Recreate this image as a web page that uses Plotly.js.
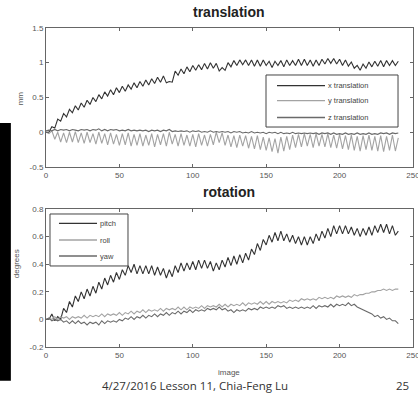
<!DOCTYPE html>
<html><head><meta charset="utf-8">
<script src="https://cdn.plot.ly/plotly-3.0.1.min.js"></script>
<style>html,body{margin:0;padding:0;background:#fff;}#chart{width:418px;height:393px;}</style>
</head><body><div id="chart"></div>
<script>
// image index: 0..240, step 2
const xTranslation = [0.00,0.00,0.08,0.06,0.19,0.16,0.27,0.22,0.33,0.28,0.38,0.32,0.42,0.36,0.46,0.40,0.50,0.44,0.54,0.48,0.58,0.52,0.61,0.54,0.64,0.57,0.66,0.59,0.68,0.62,0.71,0.64,0.73,0.66,0.75,0.68,0.77,0.70,0.79,0.72,0.81,0.71,0.73,0.72,0.88,0.82,0.91,0.84,0.94,0.87,0.96,0.89,0.97,0.90,0.99,0.91,1.00,0.92,0.99,0.88,0.93,0.89,1.00,0.94,1.03,0.96,1.04,0.97,1.04,0.96,1.04,0.95,1.04,0.95,1.04,0.96,1.02,0.93,1.02,0.96,1.03,0.94,1.04,0.96,1.03,0.96,1.05,0.96,1.05,0.96,1.04,0.95,1.04,0.96,1.05,0.98,1.06,0.99,1.06,0.98,1.05,0.96,1.04,0.95,1.01,0.92,0.96,0.89,0.98,0.92,1.01,0.94,1.02,0.95,1.03,0.94,1.03,0.96,1.03,0.96,1.02];
const yTranslation = [0.00,-0.02,0.02,-0.10,0.00,-0.14,-0.01,-0.15,0.00,-0.14,0.01,-0.15,-0.01,-0.16,0.00,-0.15,-0.02,-0.17,0.00,-0.16,-0.02,-0.18,-0.01,-0.17,-0.03,-0.19,-0.02,-0.18,-0.01,-0.20,-0.03,-0.19,-0.02,-0.20,-0.04,-0.19,-0.02,-0.21,-0.03,-0.18,-0.02,-0.20,0.00,-0.17,-0.03,-0.20,-0.02,-0.19,-0.04,-0.20,-0.03,-0.21,-0.02,-0.19,-0.04,-0.20,-0.03,-0.18,0.00,-0.15,-0.01,-0.19,-0.04,-0.21,-0.05,-0.22,-0.04,-0.20,-0.05,-0.23,-0.06,-0.24,-0.05,-0.25,-0.07,-0.26,-0.08,-0.28,-0.09,-0.30,-0.07,-0.27,-0.06,-0.25,-0.04,-0.22,-0.03,-0.21,-0.02,-0.20,-0.03,-0.22,-0.02,-0.20,-0.03,-0.21,-0.02,-0.22,-0.04,-0.23,-0.03,-0.24,-0.05,-0.25,-0.04,-0.26,-0.06,-0.27,-0.05,-0.25,-0.04,-0.26,-0.06,-0.27,-0.05,-0.28,-0.06,-0.26,-0.04,-0.27,-0.08];
const zTranslation = [0.02,0.03,0.02,0.04,0.02,0.04,0.03,0.04,0.02,0.04,0.03,0.02,0.04,0.03,0.04,0.02,0.04,0.03,0.05,0.02,0.04,0.02,0.04,0.03,0.04,0.02,0.03,0.02,0.04,0.02,0.03,0.02,0.03,0.02,0.03,0.01,0.03,0.02,0.03,0.01,0.03,0.02,0.04,0.01,0.02,0.01,0.02,0.01,0.02,0.00,0.02,0.01,0.02,0.00,0.01,0.00,0.02,0.00,0.01,0.00,0.01,0.00,0.01,-0.01,0.01,0.00,0.01,-0.01,0.00,-0.01,0.01,-0.01,0.00,-0.01,0.00,-0.02,0.00,-0.01,0.00,-0.02,0.00,-0.02,-0.01,-0.02,0.00,-0.02,-0.01,-0.02,-0.01,-0.02,-0.01,-0.02,-0.01,-0.03,-0.01,-0.02,-0.01,-0.03,-0.01,-0.03,-0.02,-0.03,-0.01,-0.03,-0.02,-0.03,-0.01,-0.03,-0.02,-0.03,-0.01,-0.03,-0.02,-0.03,-0.01,-0.02,-0.01,-0.03,-0.01,-0.02,-0.01];
const pitch = [0.00,0.00,0.04,-0.01,0.02,0.00,0.08,0.05,0.13,0.09,0.17,0.13,0.20,0.15,0.22,0.17,0.24,0.19,0.27,0.22,0.30,0.25,0.32,0.27,0.34,0.29,0.36,0.32,0.39,0.34,0.40,0.33,0.39,0.33,0.39,0.33,0.39,0.32,0.38,0.32,0.37,0.30,0.36,0.31,0.39,0.34,0.41,0.35,0.41,0.36,0.42,0.36,0.43,0.37,0.43,0.37,0.42,0.35,0.41,0.36,0.43,0.38,0.45,0.39,0.46,0.40,0.47,0.41,0.48,0.43,0.51,0.47,0.55,0.50,0.58,0.54,0.61,0.56,0.63,0.57,0.64,0.57,0.62,0.56,0.61,0.55,0.60,0.54,0.60,0.54,0.60,0.55,0.62,0.57,0.64,0.59,0.66,0.60,0.68,0.62,0.68,0.62,0.68,0.62,0.67,0.61,0.66,0.60,0.66,0.61,0.67,0.61,0.68,0.63,0.69,0.63,0.69,0.62,0.68,0.61,0.64];
const roll = [0.00,0.01,0.00,0.02,0.00,0.02,0.01,0.02,0.00,0.02,0.01,0.02,0.01,0.03,0.01,0.03,0.02,0.03,0.02,0.04,0.02,0.04,0.03,0.04,0.03,0.05,0.03,0.05,0.04,0.06,0.04,0.06,0.05,0.07,0.05,0.07,0.06,0.07,0.06,0.08,0.06,0.08,0.07,0.08,0.07,0.09,0.07,0.09,0.07,0.09,0.08,0.09,0.08,0.10,0.08,0.10,0.09,0.10,0.09,0.11,0.09,0.11,0.09,0.11,0.10,0.11,0.10,0.12,0.10,0.12,0.11,0.12,0.11,0.13,0.11,0.13,0.11,0.13,0.12,0.13,0.12,0.13,0.12,0.14,0.13,0.14,0.13,0.15,0.14,0.15,0.14,0.15,0.14,0.16,0.15,0.16,0.15,0.16,0.15,0.17,0.16,0.17,0.16,0.17,0.16,0.18,0.17,0.18,0.18,0.19,0.19,0.20,0.20,0.21,0.21,0.22,0.21,0.22,0.21,0.22,0.22];
const yaw = [0.00,0.01,-0.01,0.00,-0.01,0.00,-0.02,-0.01,-0.03,-0.01,-0.03,-0.01,-0.03,-0.02,-0.04,-0.02,-0.03,-0.02,-0.04,-0.01,-0.03,-0.01,-0.02,-0.01,-0.02,0.00,-0.01,0.01,0.00,0.02,0.00,0.02,0.01,0.03,0.01,0.03,0.02,0.04,0.02,0.04,0.03,0.05,0.03,0.05,0.04,0.06,0.04,0.06,0.05,0.07,0.05,0.07,0.06,0.07,0.06,0.08,0.07,0.08,0.07,0.09,0.07,0.08,0.06,0.07,0.05,0.07,0.06,0.07,0.06,0.08,0.07,0.08,0.07,0.09,0.08,0.09,0.08,0.09,0.08,0.10,0.09,0.10,0.08,0.09,0.08,0.09,0.08,0.09,0.08,0.09,0.08,0.10,0.08,0.10,0.09,0.10,0.09,0.11,0.09,0.11,0.10,0.11,0.10,0.12,0.10,0.11,0.09,0.08,0.07,0.06,0.05,0.04,0.02,0.03,0.01,0.02,0.00,0.01,-0.01,-0.01,-0.03];
const xTicks = [0, 50, 100, 150, 200, 250];
const xTickText = ['0', '50', '100', '150', '200', '250'];
const yTicksTop = [-0.5, 0, 0.5, 1, 1.5];
const yTickTextTop = ['-0.5', '0', '0.5', '1', '1.5'];
const yTicksBottom = [-0.2, 0, 0.2, 0.4, 0.6, 0.8];
const yTickTextBottom = ['-0.2', '0', '0.2', '0.4', '0.6', '0.8'];
const topNames = ['x translation', 'y translation', 'z translation'];
const bottomNames = ['pitch', 'roll', 'yaw'];

const DARK = '#333333', MID = '#6a6a6a', LIGHT = '#a3a3a3';
const colors = [DARK, LIGHT, MID];
function tr(y, name, color, xa, ya) {
  return {type: 'scatter', mode: 'lines', x0: 0, dx: 2, y: y, name: name,
    xaxis: xa, yaxis: ya, line: {color: color, width: 1.1}, showlegend: false};
}
const data = [
  tr(xTranslation, topNames[0], colors[0], 'x', 'y'),
  tr(yTranslation, topNames[1], colors[1], 'x', 'y'),
  tr(zTranslation, topNames[2], colors[2], 'x', 'y'),
  tr(pitch, bottomNames[0], colors[0], 'x2', 'y2'),
  tr(roll, bottomNames[1], colors[1], 'x2', 'y2'),
  tr(yaw, bottomNames[2], colors[2], 'x2', 'y2')
];
const tickFont = {family: 'Arial, Liberation Sans', size: 8, color: '#555'};
function xax(anchor) {
  return {domain: [0.110, 0.988], range: [0, 250], anchor: anchor, tickvals: xTicks, ticktext: xTickText,
    ticks: 'inside', ticklen: 3, tickcolor: '#666', showline: true, linecolor: '#666', linewidth: 1,
    mirror: 'ticks', showgrid: false, zeroline: false, tickfont: tickFont, ticklabeloverflow: 'allow'};
}
function yax(domain, range, vals, text, anchor) {
  return {domain: domain, range: range, anchor: anchor, tickvals: vals, ticktext: text,
    ticks: 'inside', ticklen: 3, tickcolor: '#666', showline: true, linecolor: '#666', linewidth: 1,
    mirror: 'ticks', showgrid: false, zeroline: false, tickfont: tickFont, ticklabeloverflow: 'allow'};
}
const legFont = {family: 'Arial, Liberation Sans', size: 7.5, color: '#444'};
const shapes = [{type: 'rect', xref: 'paper', yref: 'paper', x0: 0, x1: 0.026, y0: 0.031, y1: 0.687,
  fillcolor: '#000', line: {width: 0}}];
const annotations = [];
// hand-built legends (MATLAB style, compact rows)
function legendBox(names, box, rows, lineX, textX) {
  shapes.push({type: 'rect', xref: 'paper', yref: 'paper', x0: box[0], x1: box[1], y0: box[2], y1: box[3],
    fillcolor: '#fff', line: {color: '#444', width: 1}, layer: 'above'});
  names.forEach(function (n, i) {
    shapes.push({type: 'line', xref: 'paper', yref: 'paper', x0: lineX[0], x1: lineX[1], y0: rows[i], y1: rows[i],
      line: {color: colors[i], width: 1.3}, layer: 'above'});
    annotations.push({text: n, xref: 'paper', yref: 'paper', x: textX, y: rows[i], xanchor: 'left', yanchor: 'middle',
      showarrow: false, font: legFont});
  });
}
legendBox(topNames, [0.6364, 0.9522, 0.6768, 0.8092], [0.782, 0.744, 0.701], [0.6627, 0.7775], 0.780);
legendBox(bottomNames, [0.1196, 0.3062, 0.3232, 0.4555], [0.4318, 0.3893, 0.3486], [0.1411, 0.2321], 0.234);

const titleFont = {family: 'Arial, Liberation Sans', size: 14, color: '#222'};
const labFont = {family: 'Arial, Liberation Sans', size: 8, color: '#555'};
const footFont = {family: 'Open Sans, Noto Sans', size: 11.5, color: '#333'};
function ann(text, x, y, font, angle) {
  annotations.push({text: text, xref: 'paper', yref: 'paper', x: x, y: y, xanchor: 'center', yanchor: 'middle',
    showarrow: false, font: font, textangle: angle || 0});
}
ann('<b>translation</b>', 0.548, 0.969, titleFont);
ann('<b>rotation</b>', 0.548, 0.511, titleFont);
ann('mm', 0.048, 0.75, labFont, -90);
ann('degrees', 0.038, 0.33, labFont, -90);
ann('image', 0.548, 0.053, labFont);
ann('4/27/2016 Lesson 11, Chia-Feng Lu', 0.467, 0.020, footFont);
ann('25', 0.964, 0.020, footFont);

const layout = {
  width: 418, height: 393, margin: {l: 0, r: 0, t: 0, b: 0},
  paper_bgcolor: '#fff', plot_bgcolor: '#fff', showlegend: false,
  xaxis: xax('y'), yaxis: yax([0.575, 0.929], [-0.5, 1.5], yTicksTop, yTickTextTop, 'x'),
  xaxis2: xax('y2'), yaxis2: yax([0.117, 0.468], [-0.2, 0.8], yTicksBottom, yTickTextBottom, 'x2'),
  shapes: shapes, annotations: annotations
};
Plotly.newPlot('chart', data, layout, {staticPlot: true, displayModeBar: false});
</script></body></html>
